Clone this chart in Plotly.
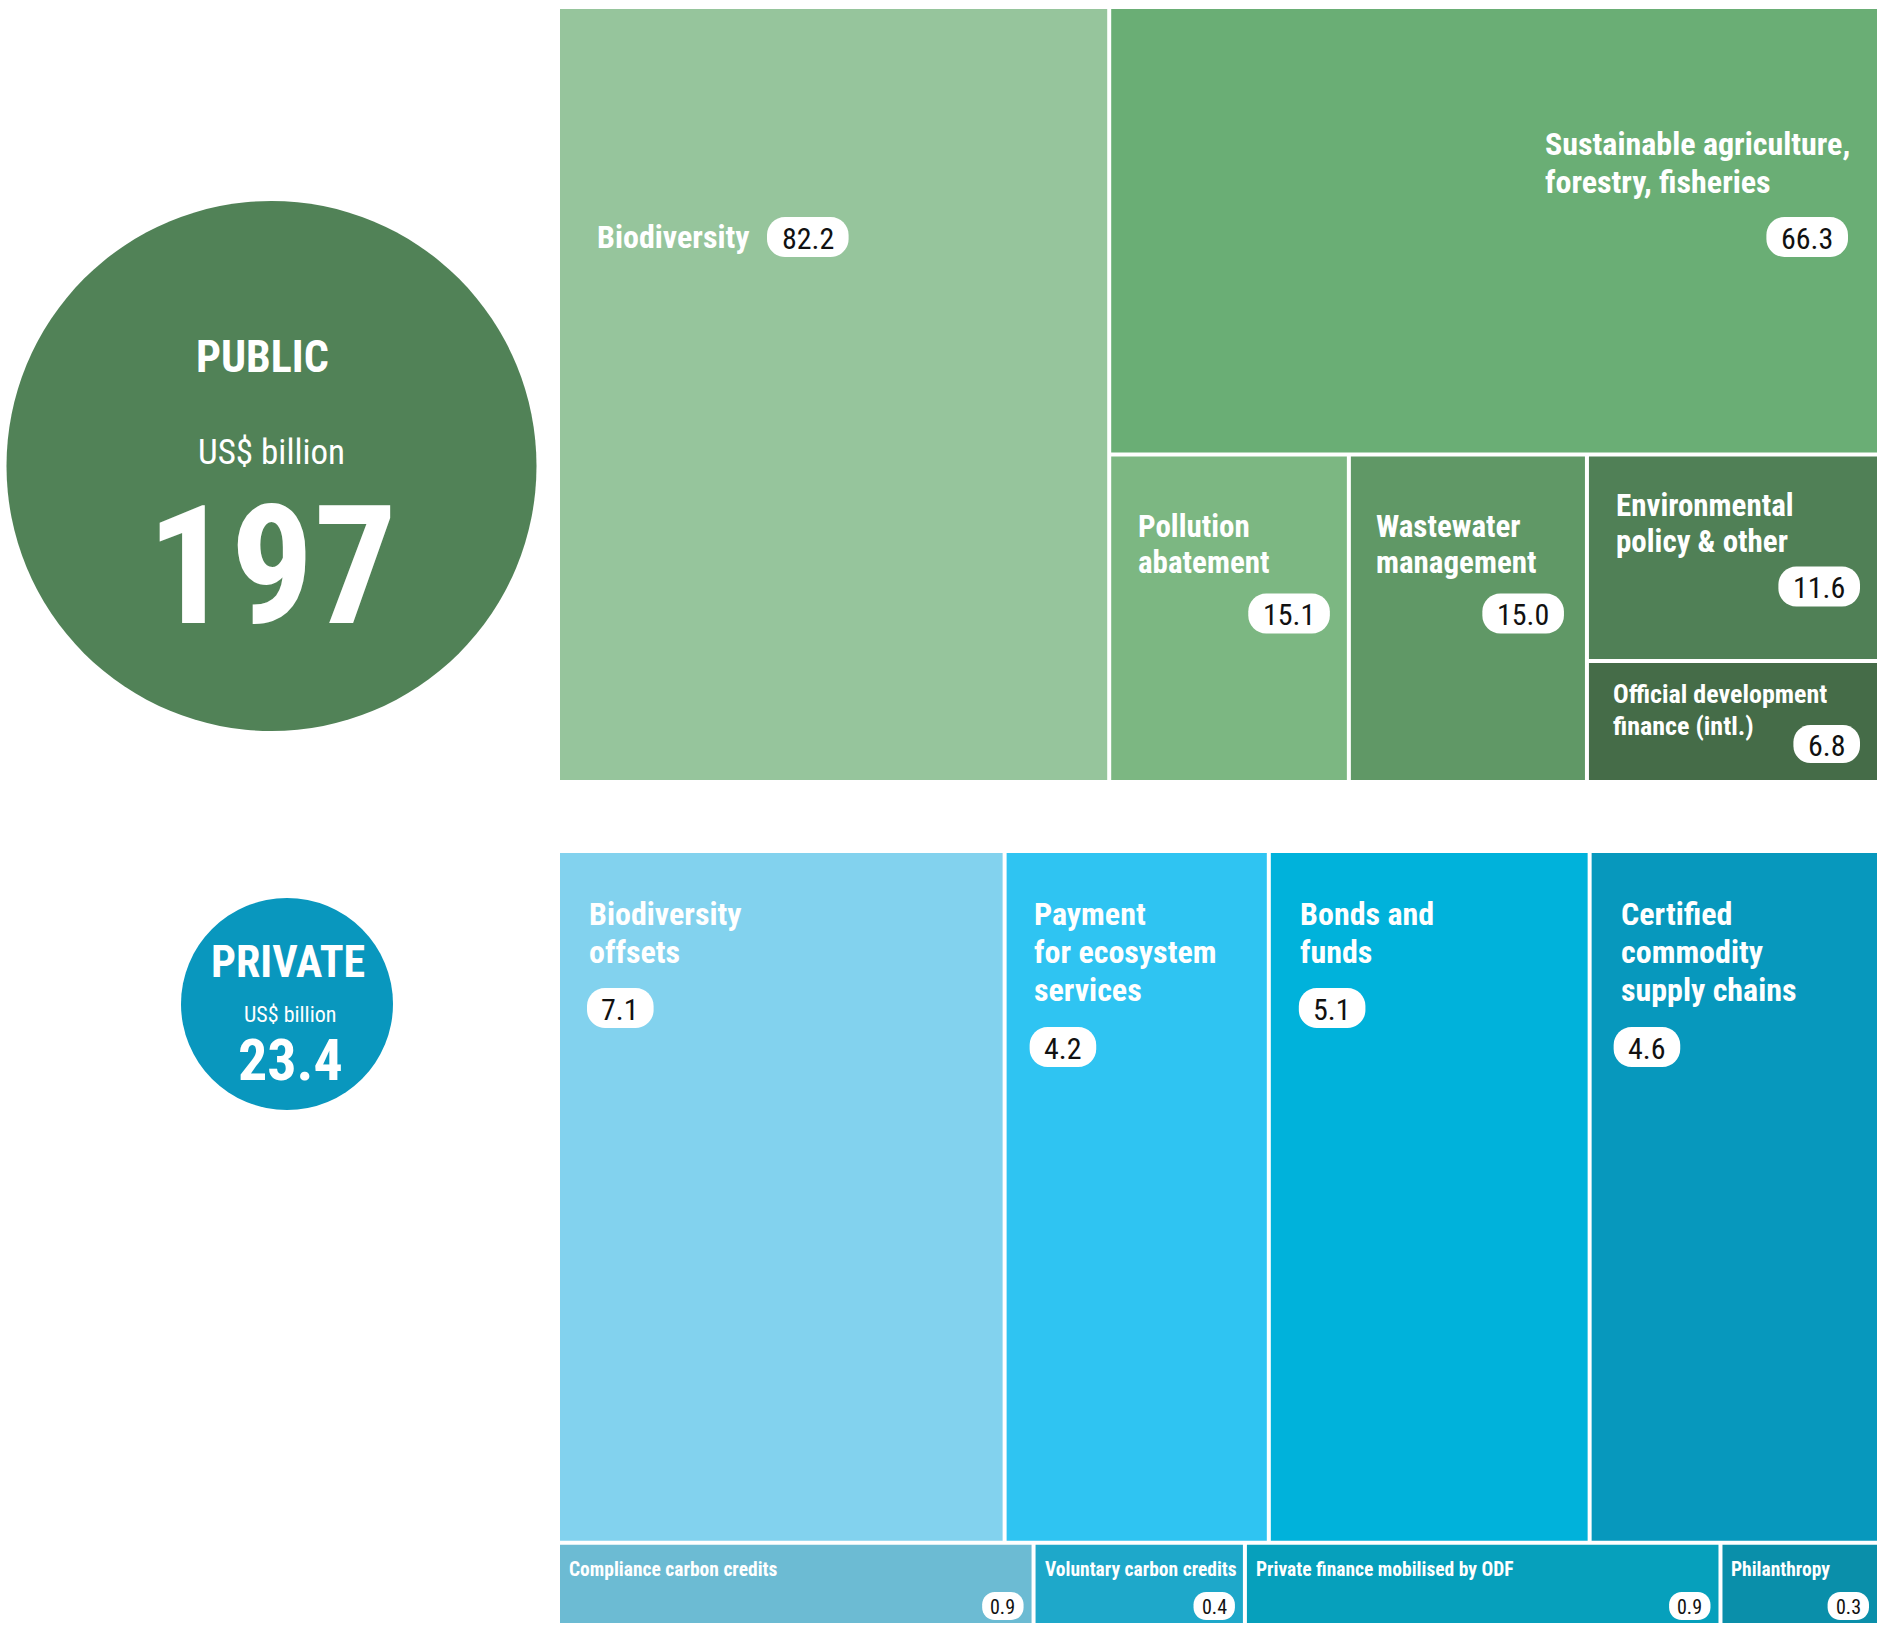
import plotly.graph_objects as go

# ---------------- data ----------------
public_categories = ["Biodiversity", "Sustainable agriculture,<br>forestry, fisheries",
                     "Pollution<br>abatement", "Wastewater<br>management",
                     "Environmental<br>policy & other", "Official development<br>finance (intl.)"]
public_values = [82.2, 66.3, 15.1, 15.0, 11.6, 6.8]

private_categories = ["Biodiversity<br>offsets", "Payment<br>for ecosystem<br>services",
                      "Bonds and<br>funds", "Certified<br>commodity<br>supply chains",
                      "Compliance carbon credits", "Voluntary carbon credits",
                      "Private finance mobilised by ODF", "Philanthropy"]
private_values = [7.1, 4.2, 5.1, 4.6, 0.9, 0.4, 0.9, 0.3]

group_names = ["PUBLIC", "PRIVATE"]
group_totals = [197, 23.4]
unit_label = "US$ billion"

# ---------------- styles ----------------
public_colors = ["#96C59C", "#6AAE75", "#7CB782", "#609866", "#508056", "#456C48"]
private_colors = ["#82D2EE", "#2FC4F2", "#00B2DB", "#0798BD",
                  "#6CBBD3", "#1EA8CA", "#06A0BC", "#0A8FAA"]
circle_colors = ["#518257", "#0997BE"]

FONT = "Roboto Condensed, Liberation Sans Narrow, Arial Narrow, DejaVu Sans Condensed, Roboto, sans-serif"
W, H = 1884, 1632
GAP = 4

# tiling structure (index refers to the category lists)
public_tree = ("h", [0, ("v", [1, ("h", [2, 3, ("v", [4, 5])])])])
private_tree = ("v", [("h", [0, 1, 2, 3]), ("h", [4, 5, 6, 7])])
public_box = (560, 9, 1877, 780)
private_box = (560, 853, 1877, 1623)

# label placement per cell: text reference edge, dx, first-line cap-centre dy, line step, size,
# badge side, badge dx, badge dy (negative = from bottom), badge height, badge font size
public_lbl = [
    dict(ref="x0", dx=35, dy=228, step=38, size=32, bside="left", bdx=207, bdy=208, bh=40, bsize=30),
    dict(ref="x1", dx=-334, dy=134.5, step=38.5, size=32, bside="right", bdx=29, bdy=208, bh=40, bsize=30),
    dict(ref="x0", dx=25, dy=70, step=36, size=31, bside="right", bdx=17, bdy=137, bh=40, bsize=30),
    dict(ref="x0", dx=23, dy=70, step=36, size=31, bside="right", bdx=21, bdy=137, bh=40, bsize=30),
    dict(ref="x0", dx=25, dy=48.5, step=36, size=31, bside="right", bdx=17, bdy=110, bh=40, bsize=30),
    dict(ref="x0", dx=22, dy=31, step=31.5, size=26, bside="right", bdx=17, bdy=-55, bh=38, bsize=30),
]
private_lbl = [
    dict(ref="x0", dx=27, dy=61, step=38, size=32, bside="left", bdx=27, bdy=135, bh=40, bsize=30),
    dict(ref="x0", dx=25, dy=61, step=38, size=32, bside="left", bdx=23, bdy=174, bh=40, bsize=30),
    dict(ref="x0", dx=27, dy=61, step=38, size=32, bside="left", bdx=28, bdy=135, bh=40, bsize=30),
    dict(ref="x0", dx=27, dy=61, step=38, size=32, bside="left", bdx=22, bdy=174, bh=40, bsize=30),
] + [dict(ref="x0", dx=7, dy=25, step=24, size=19.5, bside="right", bdx=8, bdy=-31, bh=28, bsize=20)] * 4


def subtotal(node, vals):
    if isinstance(node, int):
        return vals[node]
    return sum(subtotal(c, vals) for c in node[1])


def tile(node, vals, x0, y0, x1, y1, out):
    if isinstance(node, int):
        out[node] = (x0, y0, x1, y1)
        return
    direction, children = node
    tot = sum(subtotal(c, vals) for c in children)
    pos = x0 if direction == "h" else y0
    for c in children:
        frac = subtotal(c, vals) / tot
        if direction == "h":
            nxt = pos + (x1 - x0) * frac
            tile(c, vals, pos, y0, nxt, y1, out)
        else:
            nxt = pos + (y1 - y0) * frac
            tile(c, vals, x0, pos, x1, nxt, out)
        pos = nxt


def pill_path(x0, y0, x1, y1, r):
    k = 0.5523 * r
    return (f"M{x0 + r},{y0} L{x1 - r},{y0} C{x1 - r + k},{y0} {x1},{y0 + r - k} {x1},{y0 + r} "
            f"L{x1},{y1 - r} C{x1},{y1 - r + k} {x1 - r + k},{y1} {x1 - r},{y1} "
            f"L{x0 + r},{y1} C{x0 + r - k},{y1} {x0},{y1 - r + k} {x0},{y1 - r} "
            f"L{x0},{y0 + r} C{x0},{y0 + r - k} {x0 + r - k},{y0} {x0 + r},{y0} Z")


def badge_width(txt, fs, small):
    digits = sum(ch.isdigit() for ch in txt)
    dots = len(txt) - digits
    pad = 0.8 * fs if small else 0.95 * fs
    return digits * 0.5 * fs + dots * 0.27 * fs + pad


shapes, annots = [], []


def draw_block(cats, vals, colors, tree, box, lbls):
    rects = {}
    h = GAP / 2
    tile(tree, vals, box[0] - h, box[1] - h, box[2] + h, box[3] + h, rects)
    for i, (cat, v) in enumerate(zip(cats, vals)):
        x0, y0, x1, y1 = rects[i]
        x0, y0, x1, y1 = x0 + h, y0 + h, x1 - h, y1 - h
        shapes.append(dict(type="rect", xref="x", yref="y", x0=x0, y0=y0, x1=x1, y1=y1,
                           fillcolor=colors[i], line=dict(width=0), layer="below"))
        L = lbls[i]
        base = x0 if L["ref"] == "x0" else x1
        for j, line in enumerate(cat.split("<br>")):
            annots.append(dict(x=base + L["dx"], y=y0 + L["dy"] + j * L["step"], xref="x", yref="y",
                               text=line, showarrow=False, xanchor="left", yanchor="middle",
                               font=dict(family=FONT, size=L["size"], color="white", weight=700)))
        txt = f"{v:.1f}"
        small = L["bh"] < 38
        bw = badge_width(txt, L["bsize"], small)
        bx0 = x0 + L["bdx"] if L["bside"] == "left" else x1 - L["bdx"] - bw
        by0 = y0 + L["bdy"] if L["bdy"] >= 0 else y1 + L["bdy"]
        by1 = by0 + L["bh"]
        r = L["bh"] * 0.45
        shapes.append(dict(type="path", xref="x", yref="y", path=pill_path(bx0, by0, bx0 + bw, by1, r),
                           fillcolor="white", line=dict(width=0), layer="above"))
        annots.append(dict(x=bx0 + bw / 2, y=(by0 + by1) / 2 + 1, xref="x", yref="y", text=txt,
                           showarrow=False, xanchor="center", yanchor="middle",
                           font=dict(family=FONT, size=L["bsize"], color="#111111")))


draw_block(public_categories, public_values, public_colors, public_tree, public_box, public_lbl)
draw_block(private_categories, private_values, private_colors, private_tree, private_box, private_lbl)

# summary circles: (dx, dy, font size) of each text relative to the circle centre
circles = [
    dict(cx=271.5, cy=466, r=265, name=(-9.5, -109, 44), unit=(0, -14, 35), total=(0.5, 100, 165)),
    dict(cx=287, cy=1004, r=106, name=(1, -42, 44), unit=(3, 10, 22), total=(3, 56, 58)),
]
for g, c in enumerate(circles):
    shapes.append(dict(type="circle", xref="x", yref="y", x0=c["cx"] - c["r"], x1=c["cx"] + c["r"],
                       y0=c["cy"] - c["r"], y1=c["cy"] + c["r"], fillcolor=circle_colors[g],
                       line=dict(width=0), layer="below"))
    for key, txt, wt in [("name", group_names[g], 700), ("unit", unit_label, 400),
                         ("total", f"{group_totals[g]:g}", 700)]:
        dx, dy, fs = c[key]
        annots.append(dict(x=c["cx"] + dx, y=c["cy"] + dy, xref="x", yref="y", text=txt,
                           showarrow=False, xanchor="center", yanchor="middle",
                           font=dict(family=FONT, size=fs, color="white", weight=wt)))

fig = go.Figure(go.Scatter(x=[0, W], y=[0, H], mode="markers", marker=dict(opacity=0),
                           hoverinfo="skip", showlegend=False))
fig.update_layout(width=W, height=H, margin=dict(l=0, r=0, t=0, b=0),
                  paper_bgcolor="white", plot_bgcolor="white", shapes=shapes, annotations=annots,
                  xaxis=dict(range=[0, W], visible=False, fixedrange=True),
                  yaxis=dict(range=[H, 0], visible=False, fixedrange=True),
                  showlegend=False)
fig.write_html("out.html", config=dict(displayModeBar=False))
